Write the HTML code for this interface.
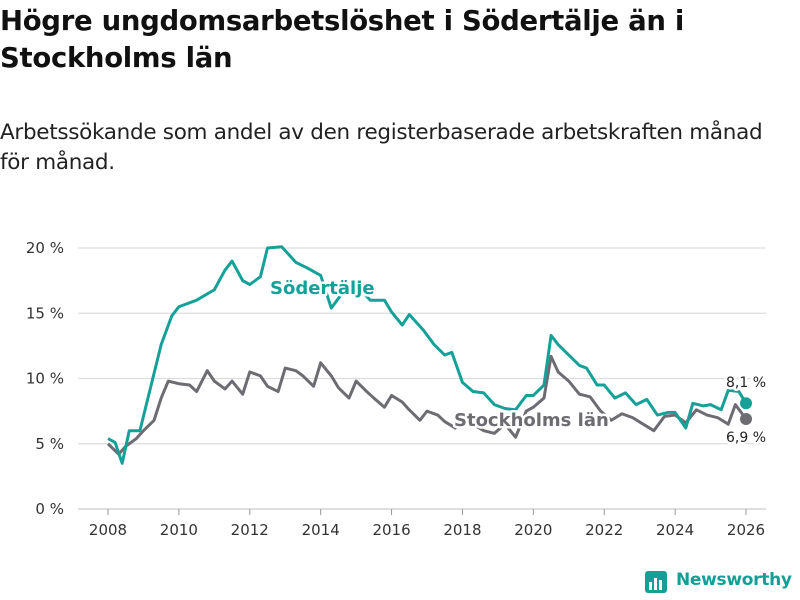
<!DOCTYPE html>
<html><head><meta charset="utf-8"><style>
body{margin:0;background:#fff;font-family:"Liberation Sans","DejaVu Sans",sans-serif;}
#wrap{position:relative;width:800px;height:600px;overflow:hidden;}
h1{position:absolute;left:0;top:3px;margin:0;font-size:27.5px;line-height:37px;font-weight:bold;color:#111;font-family:"DejaVu Sans",sans-serif;letter-spacing:-0.3px}
p{position:absolute;left:0;top:118px;margin:0;font-size:21.5px;line-height:30px;color:#222;font-family:"DejaVu Sans",sans-serif;letter-spacing:-0.3px}
</style></head><body><div id="wrap">
<h1>Högre ungdomsarbetslöshet i Södertälje än i<br>Stockholms län</h1>
<p>Arbetssökande som andel av den registerbaserade arbetskraften månad<br>för månad.</p>
<svg id="chart" width="800" height="600" style="position:absolute;left:0;top:0"></svg>
</div>
<script>
const yTicks=[0,5,10,15,20];
const xTicks=[2008,2010,2012,2014,2016,2018,2020,2022,2024,2026];
const sodDates=[2008,2008.2,2008.4,2008.6,2008.9,2009.2,2009.5,2009.8,2010,2010.5,2011,2011.3,2011.5,2011.8,2012,2012.3,2012.5,2012.9,2013.3,2013.6,2014,2014.3,2014.6,2015,2015.4,2015.8,2016,2016.3,2016.5,2016.9,2017.2,2017.5,2017.7,2018,2018.3,2018.6,2018.9,2019.2,2019.5,2019.8,2020,2020.3,2020.5,2020.7,2021,2021.3,2021.5,2021.8,2022,2022.3,2022.6,2022.9,2023.2,2023.5,2023.8,2024,2024.3,2024.5,2024.8,2025,2025.3,2025.5,2025.8,2026];
const sodValues=[5.4,5.1,3.5,6.0,6.0,9.3,12.6,14.8,15.5,16.0,16.8,18.3,19.0,17.5,17.2,17.8,20.0,20.1,18.9,18.5,17.9,15.4,16.5,17.2,16.0,16.0,15.1,14.1,14.9,13.7,12.6,11.8,12.0,9.7,9.0,8.9,8.0,7.7,7.6,8.7,8.7,9.5,13.3,12.6,11.8,11.0,10.8,9.5,9.5,8.5,8.9,8.0,8.4,7.2,7.4,7.4,6.2,8.1,7.9,8.0,7.6,9.1,9.0,8.1];
const stoDates=[2008,2008.3,2008.5,2008.8,2009,2009.3,2009.5,2009.7,2010,2010.3,2010.5,2010.8,2011,2011.3,2011.5,2011.8,2012,2012.3,2012.5,2012.8,2013,2013.3,2013.5,2013.8,2014,2014.3,2014.5,2014.8,2015,2015.3,2015.5,2015.8,2016,2016.3,2016.5,2016.8,2017,2017.3,2017.5,2017.8,2018,2018.3,2018.6,2018.9,2019.2,2019.5,2019.8,2020,2020.3,2020.5,2020.7,2021,2021.3,2021.6,2021.9,2022.2,2022.5,2022.8,2023.1,2023.4,2023.7,2024,2024.3,2024.6,2024.9,2025.2,2025.5,2025.7,2026];
const stoValues=[5.0,4.2,4.8,5.4,6.0,6.8,8.5,9.8,9.6,9.5,9.0,10.6,9.8,9.2,9.8,8.8,10.5,10.2,9.4,9.0,10.8,10.6,10.2,9.4,11.2,10.2,9.3,8.5,9.8,9.0,8.5,7.8,8.7,8.2,7.6,6.8,7.5,7.2,6.7,6.2,7.0,6.5,6.0,5.8,6.5,5.5,7.5,7.8,8.5,11.7,10.5,9.8,8.8,8.6,7.5,6.8,7.3,7.0,6.5,6.0,7.1,7.2,6.6,7.6,7.2,7.0,6.5,8.0,6.9];
const NS='http://www.w3.org/2000/svg';
const svg=document.getElementById('chart');
const X=v=>108+(v-2008)*(746-108)/18;
const Y=v=>509-v*(509-248)/20;
function mk(t,a){const e=document.createElementNS(NS,t);for(const k in a)e.setAttribute(k,a[k]);svg.appendChild(e);return e;}
yTicks.forEach(t=>{
 const l=mk('line',{x1:78,x2:766,y1:Y(t),y2:Y(t),stroke:t===0?'#ccc':'#ddd','stroke-width':1.3});
 
 
 const tx=mk('text',{x:64,y:Y(t)+5,'text-anchor':'end','font-size':15,fill:'#333','font-family':'DejaVu Sans, sans-serif'});
 tx.textContent=t+' %';
 
 
});
xTicks.forEach(t=>{
 const l=mk('line',{x1:X(t),x2:X(t),y1:509,y2:515,stroke:'#999','stroke-width':1});
 
 
 const tx=mk('text',{x:X(t),y:535,'text-anchor':'middle','font-size':15,fill:'#333','font-family':'DejaVu Sans, sans-serif'});
 tx.textContent=t;
 
 
});
function line(d,v,c,name){
 const p=mk('polyline',{points:d.map((x,i)=>X(x)+','+Y(v[i])).join(' '),fill:'none',stroke:c,'stroke-width':3,'stroke-linejoin':'round'});
 
 
 const c2=mk('circle',{cx:X(d[d.length-1]),cy:Y(v[v.length-1]),r:6,fill:c});
 
 
}
line(stoDates,stoValues,'#6d6c72','stockholm-line');
line(sodDates,sodValues,'#15a198','sodertalje-line');
function lab(x,y,txt,c,w,name,anchor,size){
 const t=mk('text',{x:x,y:y,'font-size':size,'font-weight':w,fill:c,stroke:'#fff','stroke-width':5,'paint-order':'stroke','stroke-linejoin':'round','text-anchor':anchor,'font-family':'DejaVu Sans, sans-serif'});
 t.textContent=txt;
 
 
}
lab(270,294,'Södertälje','#15a198','bold','sodertalje-label','start',18);
lab(454,426,'Stockholms län','#6d6c72','bold','stockholm-label','start',18);
lab(746,387,'8,1 %','#222','normal','sodertalje-end-value','middle',14);
lab(746,442,'6,9 %','#222','normal','stockholm-end-value','middle',14);
</script>
<svg width="30" height="26" style="position:absolute;left:644px;top:570px"><rect x="1" y="1" width="22" height="22" rx="3" fill="#159e96"/><rect x="5" y="12" width="3" height="8" fill="#fff"/><rect x="10" y="8" width="3" height="12" fill="#fff"/><rect x="15" y="10" width="3" height="10" fill="#fff"/></svg>
<div style="position:absolute;left:676px;top:570px;font-size:17px;font-weight:bold;color:#159e96;font-family:'DejaVu Sans',sans-serif;letter-spacing:-0.3px">Newsworthy</div>
</body></html>
